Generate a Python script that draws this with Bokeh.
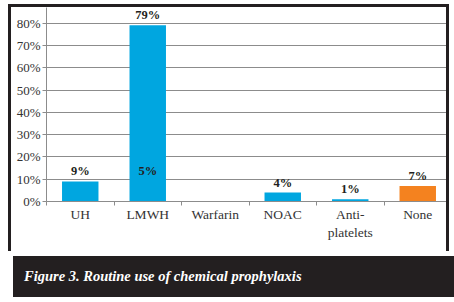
from bokeh.plotting import figure
from bokeh.models import ColumnDataSource, FixedTicker, PrintfTickFormatter, Range1d, Div
from bokeh.layouts import column
from bokeh.core.properties import value
from bokeh.embed import file_html
from bokeh.resources import INLINE

# ---- data ----
categories = ["UH", "LMWH", "Warfarin", "NOAC", "Anti-\nplatelets", "None"]
values = [9, 79, 0, 4, 1, 7]
value_labels = ["9%", "79%", "", "4%", "1%", "7%"]
bar_colors = ["#00a6e0", "#00a6e0", "#00a6e0", "#00a6e0", "#00a6e0", "#f4821f"]
stray_label_cat = ["LMWH"]
stray_label_text = ["5%"]
stray_label_y = [9]
y_ticks = [0, 10, 20, 30, 40, 50, 60, 70, 80]
caption = "Figure 3. Routine use of chemical prophylaxis"

FONT = "Liberation Serif"
DARK = "#231f20"
TXT = "#333333"

xs = [i + 0.5 for i in range(len(categories))]
src = ColumnDataSource(dict(x=xs, top=values, lab=value_labels, color=bar_colors))
sx = [categories.index(c) + 0.5 for c in stray_label_cat]
src2 = ColumnDataSource(dict(x=sx, y=stray_label_y, lab=stray_label_text))

p = figure(width=441, height=247, output_backend="svg", toolbar_location=None,
           x_range=Range1d(0, len(categories)), y_range=Range1d(0, 87.0),
           min_border_left=35, min_border_right=1, min_border_top=0, min_border_bottom=53)
p.styles = {"border-left": f"3px solid {DARK}", "border-top": f"3px solid {DARK}",
            "border-right": f"3px solid {DARK}"}
p.outline_line_color = None
p.background_fill_color = "white"
p.border_fill_color = "white"

p.vbar(x="x", top="top", bottom=0, width=0.54, color="color", line_color=None, source=src)
p.text(x="x", y="top", text="lab", source=src, text_align="center", text_baseline="bottom",
       y_offset=-3, text_font=value(FONT), text_font_style="bold", text_font_size="12.5px",
       text_color=DARK)
p.text(x="x", y="y", text="lab", source=src2, text_align="center", text_baseline="bottom",
       y_offset=-3, text_font=value(FONT), text_font_style="bold", text_font_size="12.5px",
       text_color=DARK)

# x axis: labels at centers, ticks at category boundaries
xa = p.xaxis[0]
xa.ticker = FixedTicker(ticks=xs, minor_ticks=list(range(len(categories) + 1)))
xa.major_label_overrides = {x: c for x, c in zip(xs, categories)}
xa.major_tick_line_color = None
xa.major_tick_in = 0
xa.major_tick_out = 0
xa.minor_tick_line_color = "#8c8c8c"
xa.minor_tick_in = 0
xa.minor_tick_out = 4
xa.axis_line_color = "#8c8c8c"
xa.major_label_text_font = FONT
xa.major_label_text_font_size = "13.5px"
xa.major_label_text_color = TXT
xa.major_label_standoff = 1

ya = p.yaxis[0]
ya.ticker = FixedTicker(ticks=y_ticks)
ya.formatter = PrintfTickFormatter(format="%d%%")
ya.major_tick_in = 0
ya.major_tick_out = 4
ya.major_tick_line_color = "#8c8c8c"
ya.minor_tick_line_color = None
ya.axis_line_color = "#8c8c8c"
ya.major_label_text_font = FONT
ya.major_label_text_font_size = "13px"
ya.major_label_text_color = TXT
ya.major_label_standoff = 2

p.xgrid.grid_line_color = None
p.ygrid.grid_line_color = "#8c8c8c"
p.ygrid.ticker = FixedTicker(ticks=y_ticks[1:])

cap = Div(text=caption, width=441, height=41,
          styles={"background-color": DARK, "color": "white", "font-family": FONT,
                  "font-weight": "bold", "font-style": "italic", "font-size": "14.5px",
                  "line-height": "41px", "padding-left": "11px", "box-sizing": "border-box",
                  "width": "441px", "height": "41px"})

layout = column(p, cap, spacing=0, margin=(4, 0, 0, 8))
open("out.html", "w").write(file_html(layout, INLINE))
